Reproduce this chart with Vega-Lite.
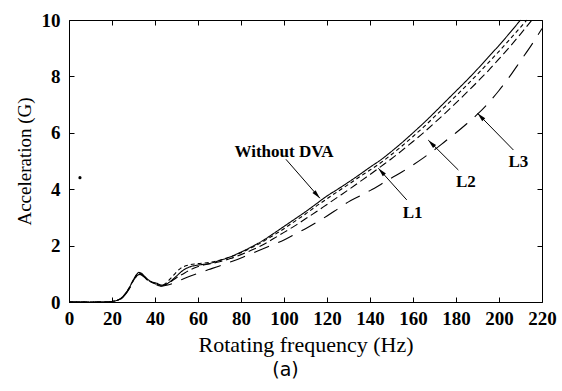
{
  "$schema": "https://vega.github.io/schema/vega-lite/v6.json",
  "width": 473,
  "height": 282,
  "autosize": "none",
  "padding": {"left": 69, "top": 20, "right": 20, "bottom": 89},
  "background": "white",
  "config": {
    "view": {"stroke": "black", "strokeWidth": 1},
    "axis": {"domain": false, "grid": false, "tickColor": "black", "tickSize": -5, "tickWidth": 1, "labelColor": "black", "titleColor": "black"}
  },
  "title": {"text": "(a)", "orient": "bottom", "anchor": "middle", "dx": -20, "offset": 6, "font": "DejaVu Sans", "fontSize": 19, "fontWeight": "normal", "color": "black"},
  "datasets": {
    "curves": [
      {"s": "Without DVA", "f": 0, "a": 0}, {"s": "Without DVA", "f": 10, "a": 0}, {"s": "Without DVA", "f": 18, "a": 0},
      {"s": "Without DVA", "f": 20, "a": 0.02}, {"s": "Without DVA", "f": 22, "a": 0.05}, {"s": "Without DVA", "f": 24, "a": 0.12},
      {"s": "Without DVA", "f": 26, "a": 0.28}, {"s": "Without DVA", "f": 28, "a": 0.5}, {"s": "Without DVA", "f": 30, "a": 0.8},
      {"s": "Without DVA", "f": 31.5, "a": 0.98}, {"s": "Without DVA", "f": 32.5, "a": 1.05}, {"s": "Without DVA", "f": 33.5, "a": 1.03},
      {"s": "Without DVA", "f": 35, "a": 0.92}, {"s": "Without DVA", "f": 37, "a": 0.78}, {"s": "Without DVA", "f": 39, "a": 0.7},
      {"s": "Without DVA", "f": 41, "a": 0.66}, {"s": "Without DVA", "f": 43, "a": 0.6}, {"s": "Without DVA", "f": 45, "a": 0.62},
      {"s": "Without DVA", "f": 47, "a": 0.72}, {"s": "Without DVA", "f": 50, "a": 0.92}, {"s": "Without DVA", "f": 53, "a": 1.12},
      {"s": "Without DVA", "f": 56, "a": 1.24}, {"s": "Without DVA", "f": 60, "a": 1.31}, {"s": "Without DVA", "f": 65, "a": 1.36},
      {"s": "Without DVA", "f": 70, "a": 1.47}, {"s": "Without DVA", "f": 75, "a": 1.6}, {"s": "Without DVA", "f": 80, "a": 1.77},
      {"s": "Without DVA", "f": 85, "a": 1.96}, {"s": "Without DVA", "f": 90, "a": 2.17}, {"s": "Without DVA", "f": 95, "a": 2.42},
      {"s": "Without DVA", "f": 100, "a": 2.68}, {"s": "Without DVA", "f": 105, "a": 2.94}, {"s": "Without DVA", "f": 110, "a": 3.2},
      {"s": "Without DVA", "f": 115, "a": 3.48}, {"s": "Without DVA", "f": 120, "a": 3.76}, {"s": "Without DVA", "f": 125, "a": 4.0},
      {"s": "Without DVA", "f": 130, "a": 4.25}, {"s": "Without DVA", "f": 135, "a": 4.51}, {"s": "Without DVA", "f": 140, "a": 4.78},
      {"s": "Without DVA", "f": 145, "a": 5.04}, {"s": "Without DVA", "f": 150, "a": 5.34}, {"s": "Without DVA", "f": 155, "a": 5.66},
      {"s": "Without DVA", "f": 160, "a": 6.0}, {"s": "Without DVA", "f": 165, "a": 6.35}, {"s": "Without DVA", "f": 170, "a": 6.72},
      {"s": "Without DVA", "f": 175, "a": 7.1}, {"s": "Without DVA", "f": 180, "a": 7.48}, {"s": "Without DVA", "f": 185, "a": 7.86},
      {"s": "Without DVA", "f": 190, "a": 8.26}, {"s": "Without DVA", "f": 195, "a": 8.68}, {"s": "Without DVA", "f": 200, "a": 9.1},
      {"s": "Without DVA", "f": 205, "a": 9.54}, {"s": "Without DVA", "f": 210, "a": 10.0},

      {"s": "L1", "f": 0, "a": 0}, {"s": "L1", "f": 18, "a": 0}, {"s": "L1", "f": 20, "a": 0.02}, {"s": "L1", "f": 24, "a": 0.12},
      {"s": "L1", "f": 28, "a": 0.5}, {"s": "L1", "f": 30, "a": 0.78}, {"s": "L1", "f": 32, "a": 1.0}, {"s": "L1", "f": 33, "a": 1.02},
      {"s": "L1", "f": 35, "a": 0.9}, {"s": "L1", "f": 37, "a": 0.76}, {"s": "L1", "f": 39, "a": 0.68}, {"s": "L1", "f": 41, "a": 0.63},
      {"s": "L1", "f": 43, "a": 0.58}, {"s": "L1", "f": 45, "a": 0.66}, {"s": "L1", "f": 48, "a": 0.9}, {"s": "L1", "f": 52, "a": 1.2},
      {"s": "L1", "f": 56, "a": 1.32}, {"s": "L1", "f": 60, "a": 1.36}, {"s": "L1", "f": 65, "a": 1.4}, {"s": "L1", "f": 70, "a": 1.48},
      {"s": "L1", "f": 75, "a": 1.6}, {"s": "L1", "f": 80, "a": 1.75}, {"s": "L1", "f": 85, "a": 1.93}, {"s": "L1", "f": 90, "a": 2.13},
      {"s": "L1", "f": 95, "a": 2.36}, {"s": "L1", "f": 100, "a": 2.6}, {"s": "L1", "f": 105, "a": 2.86}, {"s": "L1", "f": 110, "a": 3.12},
      {"s": "L1", "f": 115, "a": 3.4}, {"s": "L1", "f": 120, "a": 3.66}, {"s": "L1", "f": 125, "a": 3.92}, {"s": "L1", "f": 130, "a": 4.17},
      {"s": "L1", "f": 135, "a": 4.43}, {"s": "L1", "f": 140, "a": 4.68}, {"s": "L1", "f": 145, "a": 4.94}, {"s": "L1", "f": 150, "a": 5.23},
      {"s": "L1", "f": 155, "a": 5.54}, {"s": "L1", "f": 160, "a": 5.87}, {"s": "L1", "f": 165, "a": 6.21}, {"s": "L1", "f": 170, "a": 6.57},
      {"s": "L1", "f": 175, "a": 6.94}, {"s": "L1", "f": 180, "a": 7.31}, {"s": "L1", "f": 185, "a": 7.69}, {"s": "L1", "f": 190, "a": 8.08},
      {"s": "L1", "f": 195, "a": 8.48}, {"s": "L1", "f": 200, "a": 8.89}, {"s": "L1", "f": 205, "a": 9.31}, {"s": "L1", "f": 210, "a": 9.74},
      {"s": "L1", "f": 213, "a": 10.0},

      {"s": "L2", "f": 0, "a": 0}, {"s": "L2", "f": 18, "a": 0}, {"s": "L2", "f": 20, "a": 0.02}, {"s": "L2", "f": 24, "a": 0.11},
      {"s": "L2", "f": 28, "a": 0.48}, {"s": "L2", "f": 30, "a": 0.76}, {"s": "L2", "f": 32, "a": 0.98}, {"s": "L2", "f": 33, "a": 1.0},
      {"s": "L2", "f": 35, "a": 0.9}, {"s": "L2", "f": 37, "a": 0.76}, {"s": "L2", "f": 39, "a": 0.68}, {"s": "L2", "f": 41, "a": 0.62},
      {"s": "L2", "f": 43, "a": 0.57}, {"s": "L2", "f": 46, "a": 0.66}, {"s": "L2", "f": 50, "a": 0.86}, {"s": "L2", "f": 54, "a": 1.04},
      {"s": "L2", "f": 58, "a": 1.2}, {"s": "L2", "f": 62, "a": 1.3}, {"s": "L2", "f": 66, "a": 1.36}, {"s": "L2", "f": 70, "a": 1.43},
      {"s": "L2", "f": 75, "a": 1.54}, {"s": "L2", "f": 80, "a": 1.68}, {"s": "L2", "f": 85, "a": 1.84}, {"s": "L2", "f": 90, "a": 2.02},
      {"s": "L2", "f": 95, "a": 2.24}, {"s": "L2", "f": 100, "a": 2.47}, {"s": "L2", "f": 105, "a": 2.7}, {"s": "L2", "f": 110, "a": 2.95},
      {"s": "L2", "f": 115, "a": 3.2}, {"s": "L2", "f": 120, "a": 3.46}, {"s": "L2", "f": 125, "a": 3.72}, {"s": "L2", "f": 130, "a": 3.98},
      {"s": "L2", "f": 135, "a": 4.25}, {"s": "L2", "f": 140, "a": 4.52}, {"s": "L2", "f": 145, "a": 4.8}, {"s": "L2", "f": 150, "a": 5.08},
      {"s": "L2", "f": 155, "a": 5.38}, {"s": "L2", "f": 160, "a": 5.69}, {"s": "L2", "f": 165, "a": 6.01}, {"s": "L2", "f": 170, "a": 6.35},
      {"s": "L2", "f": 175, "a": 6.7}, {"s": "L2", "f": 180, "a": 7.06}, {"s": "L2", "f": 185, "a": 7.43}, {"s": "L2", "f": 190, "a": 7.81},
      {"s": "L2", "f": 195, "a": 8.2}, {"s": "L2", "f": 200, "a": 8.62}, {"s": "L2", "f": 205, "a": 9.05}, {"s": "L2", "f": 210, "a": 9.5},
      {"s": "L2", "f": 215.3, "a": 10.0},

      {"s": "L3", "f": 0, "a": 0}, {"s": "L3", "f": 18, "a": 0}, {"s": "L3", "f": 20, "a": 0.02}, {"s": "L3", "f": 24, "a": 0.1},
      {"s": "L3", "f": 28, "a": 0.46}, {"s": "L3", "f": 30, "a": 0.74}, {"s": "L3", "f": 32, "a": 0.96}, {"s": "L3", "f": 33, "a": 0.98},
      {"s": "L3", "f": 35, "a": 0.88}, {"s": "L3", "f": 37, "a": 0.74}, {"s": "L3", "f": 39, "a": 0.66}, {"s": "L3", "f": 41, "a": 0.6},
      {"s": "L3", "f": 43, "a": 0.56}, {"s": "L3", "f": 46, "a": 0.6}, {"s": "L3", "f": 50, "a": 0.72}, {"s": "L3", "f": 55, "a": 0.88},
      {"s": "L3", "f": 60, "a": 1.02}, {"s": "L3", "f": 65, "a": 1.15}, {"s": "L3", "f": 70, "a": 1.28}, {"s": "L3", "f": 75, "a": 1.42},
      {"s": "L3", "f": 80, "a": 1.56}, {"s": "L3", "f": 85, "a": 1.72}, {"s": "L3", "f": 90, "a": 1.88}, {"s": "L3", "f": 95, "a": 2.04},
      {"s": "L3", "f": 100, "a": 2.2}, {"s": "L3", "f": 105, "a": 2.4}, {"s": "L3", "f": 110, "a": 2.6}, {"s": "L3", "f": 115, "a": 2.82},
      {"s": "L3", "f": 120, "a": 3.05}, {"s": "L3", "f": 125, "a": 3.3}, {"s": "L3", "f": 130, "a": 3.55}, {"s": "L3", "f": 135, "a": 3.75},
      {"s": "L3", "f": 140, "a": 3.95}, {"s": "L3", "f": 145, "a": 4.17}, {"s": "L3", "f": 150, "a": 4.4}, {"s": "L3", "f": 155, "a": 4.62},
      {"s": "L3", "f": 160, "a": 4.86}, {"s": "L3", "f": 165, "a": 5.12}, {"s": "L3", "f": 170, "a": 5.4}, {"s": "L3", "f": 175, "a": 5.7},
      {"s": "L3", "f": 180, "a": 6.0}, {"s": "L3", "f": 185, "a": 6.32}, {"s": "L3", "f": 190, "a": 6.66}, {"s": "L3", "f": 195, "a": 7.05},
      {"s": "L3", "f": 200, "a": 7.5}, {"s": "L3", "f": 205, "a": 8.0}, {"s": "L3", "f": 210, "a": 8.55}, {"s": "L3", "f": 215, "a": 9.1},
      {"s": "L3", "f": 220, "a": 9.7}
    ],
    "speck": [{"f": 5.1, "a": 4.41}],
    "arrows": [
      {"lab": "Without DVA", "x1": 100.9, "y1": 5.06, "x2": 116.7, "y2": 3.68},
      {"lab": "L1", "x1": 157.1, "y1": 3.62, "x2": 143.9, "y2": 4.74},
      {"lab": "L2", "x1": 181.1, "y1": 4.68, "x2": 167.1, "y2": 5.74},
      {"lab": "L3", "x1": 206.7, "y1": 5.39, "x2": 190.0, "y2": 6.69}
    ],
    "labels": [
      {"t": "Without DVA", "f": 100, "a": 5.14},
      {"t": "L1", "f": 159.8, "a": 2.98},
      {"t": "L2", "f": 184.6, "a": 4.08},
      {"t": "L3", "f": 209, "a": 4.8}
    ]
  },
  "layer": [
    {
      "data": {"name": "curves"},
      "mark": {"type": "line", "color": "black", "strokeWidth": 1.1, "interpolate": "monotone"},
      "encoding": {
        "x": {"field": "f", "type": "quantitative", "scale": {"domain": [0, 220], "nice": false},
          "axis": {"orient": "bottom", "values": [0, 20, 40, 60, 80, 100, 120, 140, 160, 180, 200, 220], "title": "Rotating frequency (Hz)",
            "labelFont": "Liberation Serif", "labelFontSize": 19, "labelFontWeight": "bold", "labelPadding": 12, "labelFlush": false, "labelOverlap": false,
            "titleFont": "Liberation Serif", "titleFontSize": 22, "titleFontWeight": "normal", "titlePadding": 6}},
        "y": {"field": "a", "type": "quantitative", "scale": {"domain": [0, 10], "nice": false},
          "axis": {"orient": "left", "values": [0, 2, 4, 6, 8, 10], "title": "Acceleration (G)",
            "labelFont": "Liberation Serif", "labelFontSize": 19, "labelFontWeight": "bold", "labelPadding": 14, "labelFlush": false,
            "titleFont": "Liberation Serif", "titleFontSize": 19, "titleFontWeight": "normal", "titlePadding": 7}},
        "strokeDash": {"field": "s", "type": "nominal", "scale": {"domain": ["Without DVA", "L1", "L2", "L3"], "range": [[1, 0], [4, 3], [8, 4], [16, 10]]}, "legend": null}
      }
    },
    {
      "data": {"name": "speck"},
      "mark": {"type": "point", "filled": true, "size": 10, "color": "black", "opacity": 1},
      "encoding": {
        "x": {"field": "f", "type": "quantitative", "axis": {"orient": "top", "labels": false, "title": null, "values": [0, 20, 40, 60, 80, 100, 120, 140, 160, 180, 200, 220]}},
        "y": {"field": "a", "type": "quantitative", "axis": {"orient": "right", "labels": false, "title": null, "values": [0, 2, 4, 6, 8, 10]}}
      }
    },
    {
      "data": {"name": "arrows"},
      "mark": {"type": "rule", "color": "black", "strokeWidth": 1},
      "encoding": {
        "x": {"field": "x1", "type": "quantitative", "axis": null},
        "y": {"field": "y1", "type": "quantitative", "axis": null},
        "x2": {"field": "x2"},
        "y2": {"field": "y2"}
      }
    },
    {
      "data": {"name": "arrows"},
      "transform": [{"filter": "datum.lab == 'Without DVA'"}],
      "mark": {"type": "point", "shape": "M0,0L0.4,1.7L-0.4,1.7Z", "angle": 138.9, "filled": true, "size": 110, "color": "black", "opacity": 1},
      "encoding": {"x": {"field": "x2", "type": "quantitative", "axis": null}, "y": {"field": "y2", "type": "quantitative", "axis": null}}
    },
    {
      "data": {"name": "arrows"},
      "transform": [{"filter": "datum.lab == 'L1'"}],
      "mark": {"type": "point", "shape": "M0,0L0.4,1.7L-0.4,1.7Z", "angle": 318.1, "filled": true, "size": 110, "color": "black", "opacity": 1},
      "encoding": {"x": {"field": "x2", "type": "quantitative", "axis": null}, "y": {"field": "y2", "type": "quantitative", "axis": null}}
    },
    {
      "data": {"name": "arrows"},
      "transform": [{"filter": "datum.lab == 'L2'"}],
      "mark": {"type": "point", "shape": "M0,0L0.4,1.7L-0.4,1.7Z", "angle": 315, "filled": true, "size": 110, "color": "black", "opacity": 1},
      "encoding": {"x": {"field": "x2", "type": "quantitative", "axis": null}, "y": {"field": "y2", "type": "quantitative", "axis": null}}
    },
    {
      "data": {"name": "arrows"},
      "transform": [{"filter": "datum.lab == 'L3'"}],
      "mark": {"type": "point", "shape": "M0,0L0.4,1.7L-0.4,1.7Z", "angle": 315.7, "filled": true, "size": 110, "color": "black", "opacity": 1},
      "encoding": {"x": {"field": "x2", "type": "quantitative", "axis": null}, "y": {"field": "y2", "type": "quantitative", "axis": null}}
    },
    {
      "data": {"name": "labels"},
      "mark": {"type": "text", "font": "Liberation Serif", "fontSize": 17, "fontWeight": "bold", "color": "black", "align": "center", "baseline": "alphabetic"},
      "encoding": {
        "x": {"field": "f", "type": "quantitative", "axis": null},
        "y": {"field": "a", "type": "quantitative", "axis": null},
        "text": {"field": "t"}
      }
    }
  ],
  "resolve": {"axis": {"x": "independent", "y": "independent"}}
}
